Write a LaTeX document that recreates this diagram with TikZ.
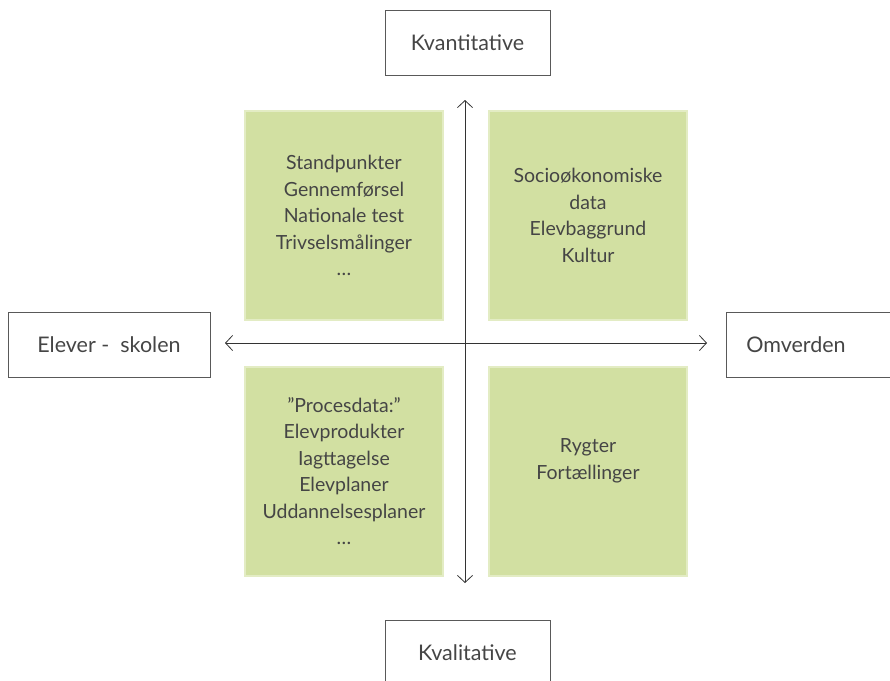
\documentclass[tikz,border=0pt]{standalone}
\usepackage{fontspec}
\setmainfont{Lato}
\usetikzlibrary{arrows.meta}
\definecolor{fieldgreen}{HTML}{D2E0A2}
\definecolor{fieldedge}{HTML}{E3ECC4}
\definecolor{textgray}{HTML}{454545}
\tikzset{
  axislabel/.style={draw=black!65, line width=0.9pt, text=textgray,
    minimum width=165, minimum height=65, font=\fontsize{21.5}{24}\selectfont},
  field/.style={fill=fieldgreen, draw=fieldedge, line width=2pt, text=textgray,
    minimum width=198, minimum height=209, align=center,
    font=\fontsize{19.5}{26.5}\selectfont},
  axis/.style={line width=0.8pt, black!80,
    {Straight Barb[length=7pt, width=15pt]}-{Straight Barb[length=7pt, width=15pt]}}
}
\begin{document}
\begin{tikzpicture}[x=1pt, y=-1pt]
  \useasboundingbox (0,0) rectangle (890,680);

  % Axis labels
  \node[axislabel] (quant) at (467.5,42.5) {Kvantitative};
  \node[axislabel] (qual) at (467.5,652.5) {Kvalitative};
  \node[axislabel, minimum width=202] (school) at (109,345) {Elever -\ \ skolen};
  \node[axislabel, minimum width=168] (world) at (810,345) {\hspace*{-28pt}Omverden};

  % Fields
  \node[field] (topleft) at (344,215.5) {Standpunkter\\Gennemførsel\\Nationale test\\Trivselsmålinger\\…};
  \node[field] (topright) at (588,215.5) {Socioøkonomiske\\data\\Elevbaggrund\\Kultur};
  \node[field] (bottomleft) at (344,471) {”Procesdata:”\\Elevprodukter\\Iagttagelse\\Elevplaner\\Uddannelsesplaner\\…};
  \node[field] (bottomright) at (588,471) {Rygter\\Fortællinger\\[-3pt]\mbox{}};

  % Axes
  \coordinate (up) at (465,100);
  \coordinate (down) at (465,583);
  \coordinate (left) at (225,343);
  \coordinate (right) at (707,343);
  \draw[axis] (down) -- (up);
  \draw[axis] (left) -- (right);
\end{tikzpicture}
\end{document}
